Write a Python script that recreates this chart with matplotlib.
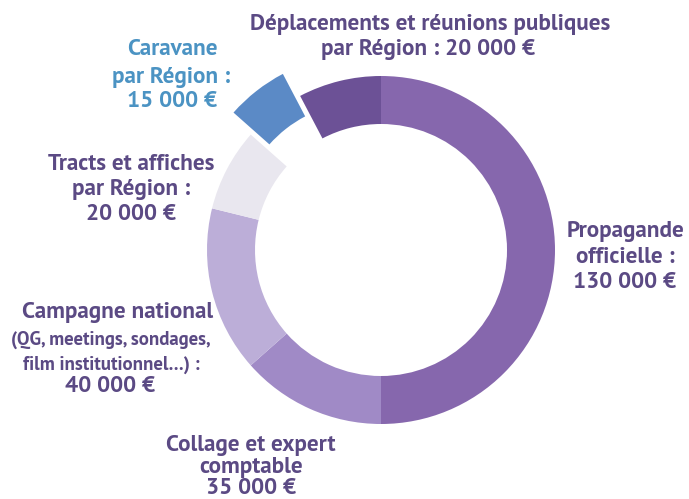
import matplotlib.pyplot as plt
from matplotlib import font_manager

# données du budget
postes = ['Propagande officielle', 'Collage et expert comptable', 'Campagne national',
          'Tracts et affiches', 'Caravane', 'Déplacements et réunions publiques']
montants = [130000, 35000, 40000, 20000, 15000, 20000]
couleurs = ['#8667ad', '#a08ac6', '#bcaed8', '#e9e7ef', '#5b8ac6', '#6c5196']
ecart = [0, 0, 0, 0, 28, 0]

# police proche de l'original
noms = set(f.name for f in font_manager.fontManager.ttflist)
candidats = ['PT Sans', 'PT Sans Caption', 'Fira Sans', 'Open Sans', 'Lato']
police = next((c for c in candidats if c in noms), 'DejaVu Sans')
plt.rcParams['font.family'] = [police, 'DejaVu Sans']

violet = '#5b4a84'
bleu = '#4b93c3'

H = 499
fig = plt.figure(figsize=(6.89, 4.99), dpi=100)
ax = fig.add_axes([0, 0, 1, 1])
ax.axis('off')

ax.pie(montants, colors=couleurs, startangle=90, counterclock=False,
       radius=174, center=(381, H - 250), explode=ecart,
       wedgeprops=dict(width=48, linewidth=0))
ax.set_xlim(0, 689)
ax.set_ylim(0, H)
ax.set_aspect('equal')

def texte(x, y, s, couleur=violet, taille=16.7):
    ax.text(x, H - y, s, ha='center', va='baseline', fontsize=taille,
            fontweight='bold', color=couleur)

texte(430, 30, 'Déplacements et réunions publiques')
texte(428, 55, 'par Région : 20 000 €')
texte(172, 55, 'Caravane', bleu)
texte(171, 83, 'par Région :', bleu)
texte(172, 107, '15 000 €', bleu)
texte(131, 170, 'Tracts et affiches')
texte(131, 195, 'par Région :')
texte(131, 220, '20 000 €')
texte(625, 237, 'Propagande')
texte(625, 263, 'officielle :')
texte(625, 288, '130 000 €')
texte(118, 318, 'Campagne national')
texte(111, 345, '(QG, meetings, sondages,', taille=13.5)
texte(111, 370, 'film institutionnel…) :', taille=13.5)
texte(110, 392, '40 000 €')
texte(251, 451, 'Collage et expert')
texte(251, 473, 'comptable')
texte(251, 494, '35 000 €')

fig.savefig('out.png', dpi=100)
